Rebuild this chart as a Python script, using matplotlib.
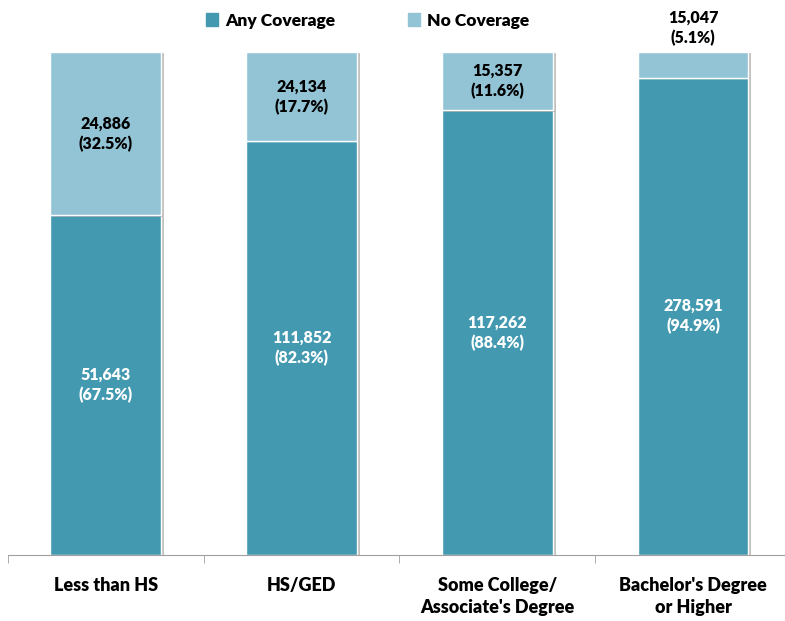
import matplotlib
matplotlib.use("Agg")
import matplotlib.pyplot as plt
import matplotlib.patheffects as pe
from matplotlib.patches import Patch
import numpy as np

categories = ["Less than HS", "HS/GED", "Some College/\nAssociate's Degree", "Bachelor's Degree\nor Higher"]
any_cov = [51643, 111852, 117262, 278591]
no_cov = [24886, 24134, 15357, 15047]
any_pct = [67.5, 82.3, 88.4, 94.9]
no_pct = [32.5, 17.7, 11.6, 5.1]

dark = "#4399B0"
light = "#93C4D5"

plt.rcParams['font.family'] = ['Lato', 'DejaVu Sans']
W = "heavy"

fig = plt.figure(figsize=(7.85, 6.21), dpi=100)
ax = fig.add_axes([8/785, 66/621, 777/785, 503/621])

x = np.arange(len(categories))
a = np.array(any_pct) / 100
n = np.array(no_pct) / 100
shadow = [pe.SimplePatchShadow(offset=(2, -1), shadow_rgbFace="#999999", alpha=0.6), pe.Normal()]
b1 = ax.bar(x, a, width=0.567, color=dark, edgecolor="white", linewidth=1)
b2 = ax.bar(x, n, bottom=a, width=0.567, color=light, edgecolor="white", linewidth=1)
for p in list(b1) + list(b2):
    p.set_path_effects(shadow)

for i in range(len(x)):
    ax.text(x[i], a[i] / 2, "{:,}\n({}%)".format(any_cov[i], any_pct[i]), ha="center", va="center",
            color="white", fontsize=11.5, fontweight=W, linespacing=1.3)
    if n[i] > 0.08:
        ax.text(x[i], a[i] + n[i] / 2, "{:,}\n({}%)".format(no_cov[i], no_pct[i]), ha="center", va="center",
                color="black", fontsize=11.5, fontweight=W, linespacing=1.3)
    else:
        ax.text(x[i], 1.012, "{:,}\n({}%)".format(no_cov[i], no_pct[i]), ha="center", va="bottom",
                color="black", fontsize=11.5, fontweight=W, linespacing=1.3, clip_on=False)

ax.set_xlim(-0.5, 3.47)
ax.set_ylim(0, 1)
ax.set_yticks([])
ax.set_xticks(x)
ax.set_xticklabels(categories, fontsize=13, fontweight=W, linespacing=1.35)
ax.set_xticks([-0.5, 0.5, 1.5, 2.5], minor=True)
ax.tick_params(axis="x", which="major", length=0, pad=16)
ax.tick_params(axis="x", which="minor", length=6, color="#A0A0A0")
for s in ["top", "right", "left"]:
    ax.spines[s].set_visible(False)
ax.spines["bottom"].set_color("#A0A0A0")

handles = [Patch(color=dark, label="Any Coverage"), Patch(color=light, label="No Coverage")]
fig.legend(handles=handles, loc="upper center", bbox_to_anchor=(0.468, 1.005), ncol=2, frameon=False,
           prop={"size": 12.5, "weight": W}, handlelength=0.7, handleheight=0.7, columnspacing=4.2,
           handletextpad=0.4)

fig.savefig("out.png", dpi=100)
